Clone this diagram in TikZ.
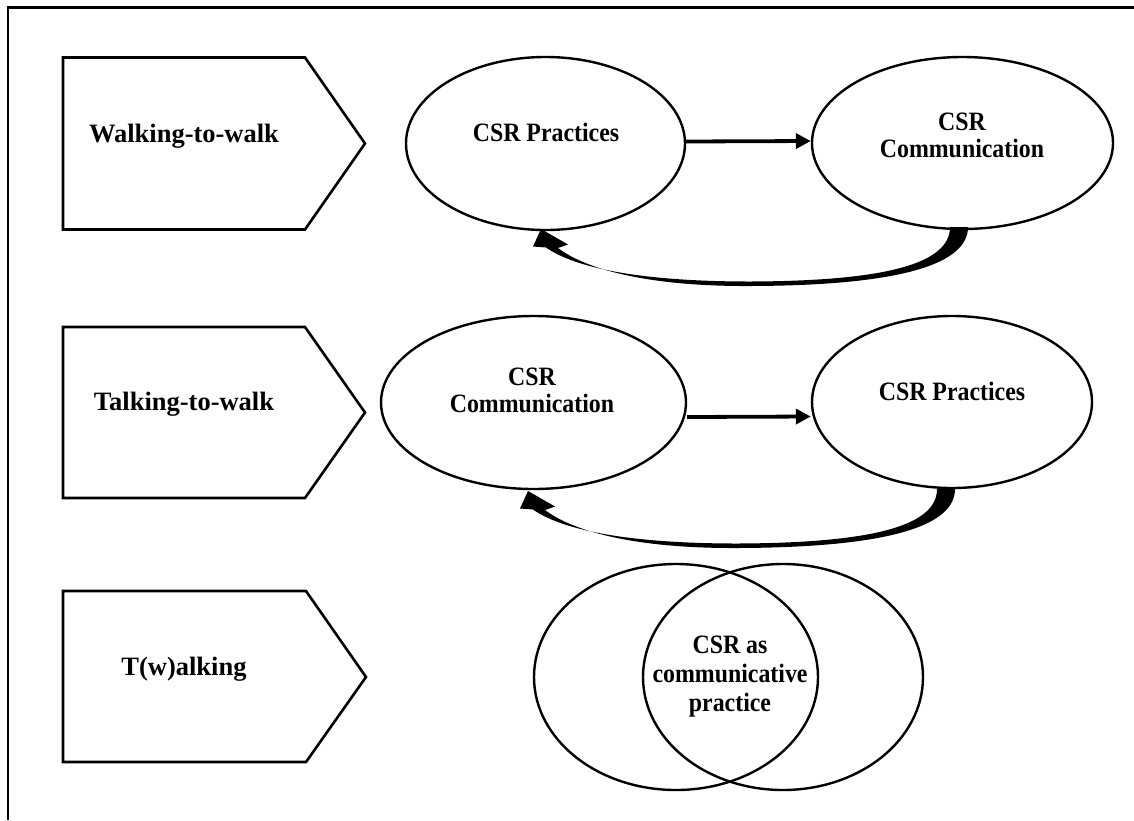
\documentclass[tikz,border=0pt]{standalone}
\usepackage{fontspec}
\setmainfont{Liberation Serif}
\newfontfamily\narrowserif[FakeStretch=0.9]{Liberation Serif}
\usetikzlibrary{arrows.meta,shapes.geometric}

\begin{document}
\begin{tikzpicture}[x=1pt,y=-1pt,
  frame/.style={line width=2.6pt},
  tab/.style={draw, line width=2.6pt, line join=miter},
  bubble/.style={draw, ellipse, line width=2.4pt, inner sep=0pt},
  tablabel/.style={inner sep=0pt, font=\bfseries\fontsize{26.5}{28}\selectfont},
  bubblelabel/.style={inner sep=0pt, align=center,
    font=\narrowserif\bfseries\fontsize{26.5}{27}\selectfont},
  flow/.style={line width=3.8pt, -{Triangle[length=15pt,width=15pt]}},
  % tapering block arrow that loops back under a pair of bubbles
  backarrow/.pic={
    \fill (950,227) -- (968,227)
      .. controls (968,263) and (905,285.5) .. (750,286)
      .. controls (650,286.5) and (587,270) .. (558,248)
      -- (568,244.5) -- (541,229) -- (533,246.5) -- (546,247.5)
      .. controls (578,270) and (650,281.5) .. (750,281.5)
      .. controls (892,281) and (950,262) .. (950,227) -- cycle;
  }
]
\useasboundingbox (0,0) rectangle (1134,820);

% page frame (top and left edges)
\draw[frame] (1134,7.5) -- (8,7.5) -- (8,820);

% ---------- row 1: walking-to-walk ----------
\draw[tab] (63,57.5) -- (305,57.5) -- (365,143.5) -- (305,229.5) -- (63,229.5) -- cycle;
\node[tablabel] (t1) at (184,136.3) {Walking-to-walk};

\node[bubble, minimum width=279pt, minimum height=173pt] (wp) at (545.5,143.5) {};
\node[bubble, minimum width=301pt, minimum height=172pt] (wc) at (962.5,143) {};
\node[bubblelabel] (wpl) at (546,132.7) {CSR Practices};
\node[bubblelabel] (wcl) at (962,135.5) {CSR\\Communication};
\draw[flow] ([yshift=2pt]wp.east) -- ([yshift=2pt]wc.west);
\pic at (0,0) {backarrow};

% ---------- row 2: talking-to-walk ----------
\draw[tab] (63,327) -- (305,327) -- (365,412.5) -- (305,498) -- (63,498) -- cycle;
\node[tablabel] (t2) at (184,404.3) {Talking-to-walk};

\node[bubble, minimum width=305pt, minimum height=173pt] (tc) at (533.5,402.5) {};
\node[bubble, minimum width=280pt, minimum height=172pt] (tp) at (952,402) {};
\node[bubblelabel] (tcl) at (532,390.5) {CSR\\Communication};
\node[bubblelabel] (tpl) at (952,391) {CSR Practices};
\draw[flow] ([yshift=-14.5pt]tc.east) -- ([yshift=-14.5pt]tp.west);
\pic at (-13,262) {backarrow};

% ---------- row 3: t(w)alking ----------
\draw[tab] (63,591) -- (306,591) -- (366,677) -- (306,762) -- (63,762) -- cycle;
\node[tablabel] (t3) at (184,669.7) {T(w)alking};

\node[bubble, minimum width=284pt, minimum height=226pt] (vl) at (676,677) {};
\node[bubble, minimum width=280pt, minimum height=226pt] (vr) at (783,677) {};
\node[bubblelabel, font=\narrowserif\bfseries\fontsize{26.5}{28.7}\selectfont] (vc) at (730,676.6) {CSR as\\communicative\\practice};

\end{tikzpicture}
\end{document}
